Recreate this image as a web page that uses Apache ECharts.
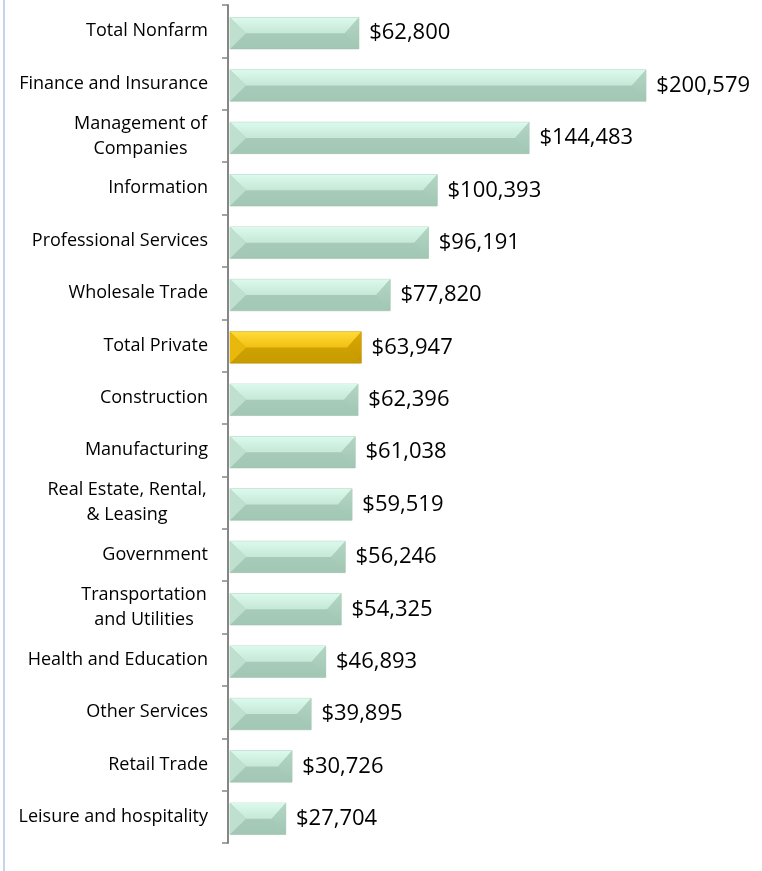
<!DOCTYPE html>
<html>
<head>
    <meta charset="utf-8">
    <title>Average Wages by Industry</title>
    <script src="https://cdn.jsdelivr.net/npm/echarts@6/dist/echarts.min.js"></script>
    <style>
        html, body { margin: 0; padding: 0; background: #fff; }
        #main { width: 762px; height: 871px; }
    </style>
</head>
<body>
    <div id="main"></div>
    <script type="text/javascript">
        // data, top to bottom
        var categories = [
            'Total Nonfarm',
            'Finance and Insurance',
            'Management of\nCompanies',
            'Information',
            'Professional Services',
            'Wholesale Trade',
            'Total Private',
            'Construction',
            'Manufacturing',
            'Real Estate, Rental,\n& Leasing',
            'Government',
            'Transportation\nand Utilities',
            'Health and Education',
            'Other Services',
            'Retail Trade',
            'Leisure and hospitality'
        ];
        var wages = [62800, 200579, 144483, 100393, 96191, 77820, 63947, 62396,
            61038, 59519, 56246, 54325, 46893, 39895, 30726, 27704];
        var highlighted = ['Total Private'];

        var labelFont = 'Open Sans';
        var labelSize = 18;
        var valueSize = 22;

        // colours for the bevelled bars
        var greenBar = {
            top: ['#dbfaed', '#c6e8d7'],
            left: '#bfdfcf',
            right: ['#b3d6c4', '#a0c6b2'],
            bottom: ['#accfbd', '#a2c7b4'],
            edge: '#9cbfad'
        };
        var goldBar = {
            top: ['#ffdb38', '#f1c013'],
            left: '#e8b90c',
            right: ['#d9a800', '#c69500'],
            bottom: ['#d5a700', '#c89b00'],
            edge: '#b88c00'
        };

        function vGrad(c) {
            return new echarts.graphic.LinearGradient(0, 0, 0, 1, [
                { offset: 0, color: c[0] }, { offset: 1, color: c[1] }
            ]);
        }

        // centre the lines of the two-line labels against each other
        var ctx = document.createElement('canvas').getContext('2d');
        ctx.font = labelSize + 'px "' + labelFont + '"';
        var rich = {};
        var richName = {};
        categories.forEach(function (c, i) {
            if (c.indexOf('\n') < 0) return;
            var w = 0;
            c.split('\n').forEach(function (l) { w = Math.max(w, ctx.measureText(l).width); });
            richName[c] = 'm' + i;
            rich['m' + i] = {
                width: Math.ceil(w) + 2,
                align: 'center',
                fontSize: labelSize,
                fontFamily: labelFont,
                lineHeight: 25,
                color: '#000'
            };
        });

        var seriesData = wages.map(function (v, i) { return [v, i]; });

        function renderBar(params, api) {
            var val = api.value(0);
            var idx = api.value(1);
            var start = api.coord([0, idx]);
            var end = api.coord([val, idx]);
            var band = api.size([0, 1])[1];
            var h = band * 0.6;
            var x0 = start[0] + 2;
            var x1 = end[0];
            var yc = start[1] + 2;
            var y0 = yc - h / 2;
            var y1 = yc + h / 2;
            var ym = y0 + h * 0.5;
            var bl = Math.min(16, (x1 - x0) / 2);
            var br = Math.min(14, (x1 - x0) / 2);
            var pal = highlighted.indexOf(categories[idx]) >= 0 ? goldBar : greenBar;

            return {
                type: 'group',
                children: [
                    {
                        type: 'rect',
                        shape: { x: x0, y: y0, width: x1 - x0, height: h },
                        style: { fill: vGrad(pal.bottom), stroke: pal.edge, lineWidth: 0.6 },
                        textContent: {
                            style: {
                                text: '$' + echarts.format.addCommas(val),
                                fontSize: valueSize,
                                fontFamily: labelFont,
                                fill: '#000'
                            }
                        },
                        textConfig: { position: 'right', distance: 10 }
                    },
                    {
                        type: 'polygon',
                        shape: { points: [[x0, y0], [x1, y0], [x1 - br, ym], [x0 + bl, ym]] },
                        style: { fill: vGrad(pal.top) }
                    },
                    {
                        type: 'polygon',
                        shape: { points: [[x0, y0], [x0 + bl, ym], [x0, y1]] },
                        style: { fill: pal.left }
                    },
                    {
                        type: 'polygon',
                        shape: { points: [[x1, y0], [x1, y1], [x1 - br, ym]] },
                        style: { fill: vGrad(pal.right) }
                    }
                ]
            };
        }

        var myChart = echarts.init(document.getElementById('main'));

        var option = {
            animation: false,
            grid: {
                left: 228,
                width: 521,
                top: 5,
                bottom: 28,
                containLabel: false
            },
            graphic: [
                {
                    type: 'rect',
                    left: 3,
                    top: 0,
                    shape: { width: 2, height: 871 },
                    style: { fill: '#c5d4ea' },
                    silent: true
                }
            ],
            xAxis: {
                type: 'value',
                min: 0,
                max: 250000,
                show: false
            },
            yAxis: {
                type: 'category',
                data: categories,
                inverse: true,
                axisLine: { show: true, lineStyle: { color: '#868686', width: 2 } },
                axisTick: { show: true, inside: false, length: 6, lineStyle: { color: '#868686', width: 1.5 } },
                axisLabel: {
                    margin: 20,
                    color: '#000',
                    fontSize: labelSize,
                    fontFamily: labelFont,
                    rich: rich,
                    formatter: function (value) {
                        var name = richName[value];
                        if (!name) return value;
                        return value.split('\n').map(function (l) {
                            return '{' + name + '|' + l + '}';
                        }).join('\n');
                    }
                }
            },
            series: [
                {
                    type: 'custom',
                    renderItem: renderBar,
                    encode: { x: 0, y: 1 },
                    data: seriesData
                }
            ]
        };

        myChart.setOption(option);
    </script>
</body>
</html>
